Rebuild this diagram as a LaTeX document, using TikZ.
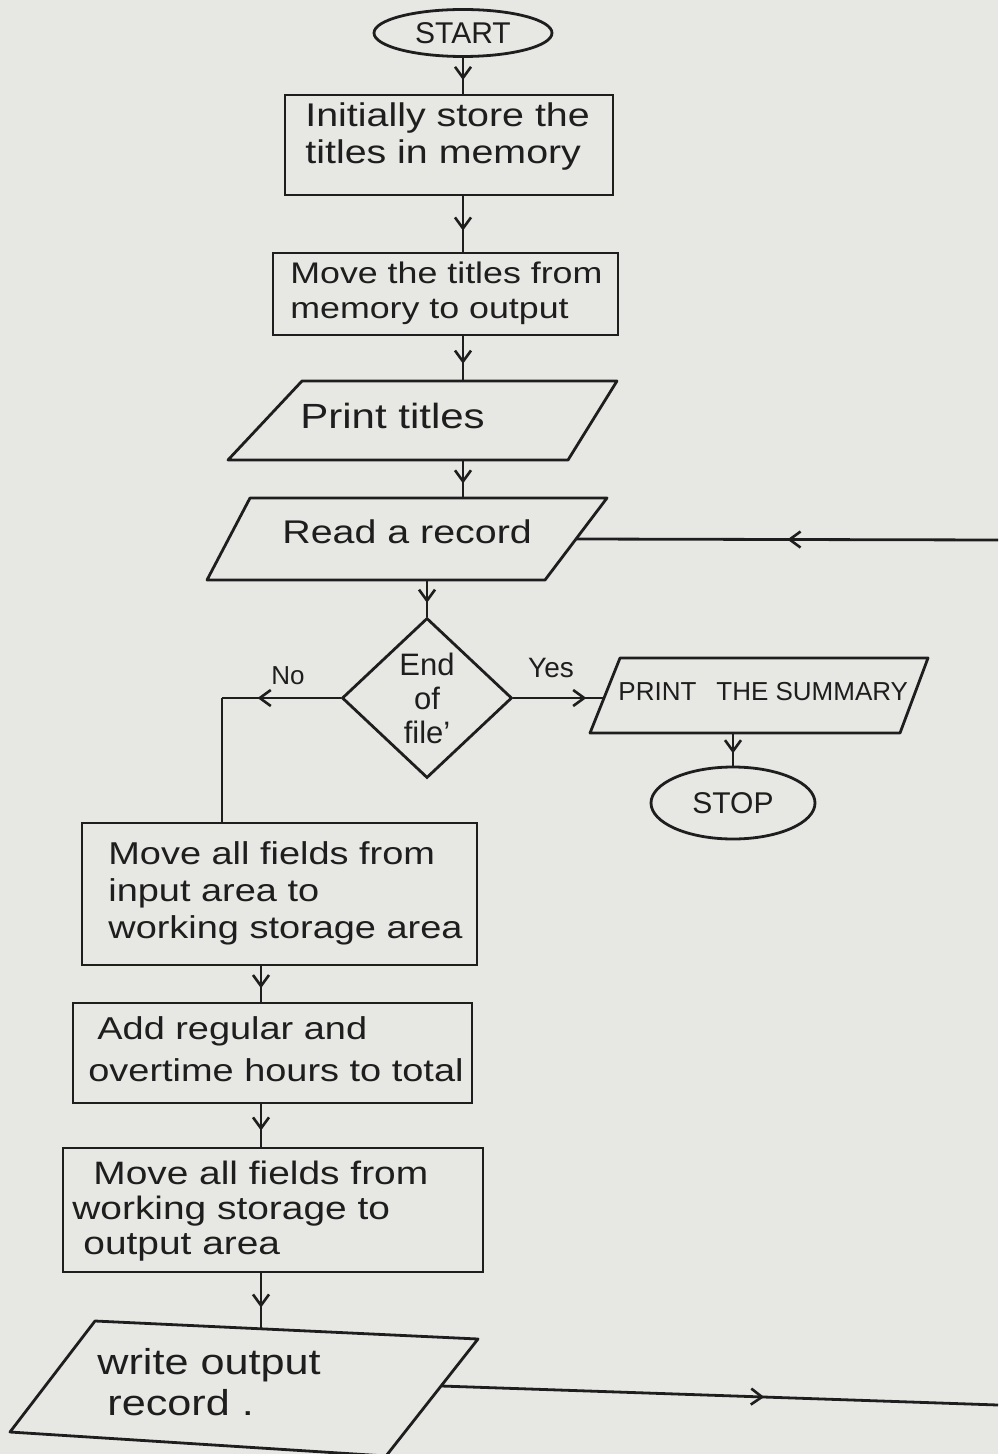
\documentclass[tikz,border=0pt]{standalone}
\usepackage{fontspec}
\setmainfont{Liberation Sans}
\newfontfamily\handfont{Liberation Sans}[FakeStretch=1.2]
\newcommand{\handsz}[2]{\handfont\fontsize{#1}{#2}\selectfont}
\usetikzlibrary{shapes.geometric,arrows.meta,decorations.markings}
\definecolor{paper}{RGB}{231,231,228}
\definecolor{ink}{RGB}{30,30,30}
\tikzset{
  every node/.style={text=ink, font=\fontsize{15}{17}\selectfont},
  proc/.style={draw=ink, line width=1.4pt, rectangle, inner sep=0pt},
  iobody/.style={draw=none, rectangle, inner sep=0pt},
  ioline/.style={draw=ink, line width=1.4pt, line join=round},
  txt/.style={anchor=west, align=left, inner sep=0pt},
  term/.style={draw=ink, line width=1.4pt, ellipse, inner sep=0pt},
  dec/.style={draw=ink, line width=1.4pt, diamond, inner sep=0pt, align=center,
     font=\fontsize{15.5}{17}\selectfont},
  conn/.style={draw=ink, line width=1.4pt},
  arrowat/.style={postaction={decorate},
     decoration={markings, mark=at position #1 with {\arrow[ink, line width=1.3pt]{Straight Barb[length=5.5pt,width=8pt]}}}},
  arrowat/.default=0.62,
  lbl/.style={font=\fontsize{14}{16}\selectfont}
}
\begin{document}
\begin{tikzpicture}[x=0.5pt,y=-0.5pt]
\fill[paper] (0,0) rectangle (998,1454);
\useasboundingbox (0,0) rectangle (998,1454);

% terminals, process boxes, decision
\node[term, minimum width=89pt, minimum height=23.5pt] (start) at (463,33) {START};
\node[proc, minimum width=164pt, minimum height=50pt] (b1) at (449,145) {};
\node[proc, minimum width=172.5pt, minimum height=41pt] (b2) at (445.5,294) {};
\node[dec, minimum width=85pt, minimum height=80pt] (d) at (427,698) {End\\of\\file'};
\node[term, minimum width=82pt, minimum height=36pt] (stop) at (733,803) {STOP};
\node[proc, minimum width=197.5pt, minimum height=71pt] (b3) at (279.5,894) {};
\node[proc, minimum width=199.5pt, minimum height=50pt] (b4) at (272.5,1053) {};
\node[proc, minimum width=210pt, minimum height=62pt] (b5) at (273,1210) {};

% input/output parallelograms: anchor bodies + outlines
\node[iobody, minimum width=163.75pt, minimum height=39.5pt] (pt) at (428.75,420.5) {};
\draw[ioline] (302,381) -- (617,381) -- (568,460) -- (228,460) -- cycle;
\node[iobody, minimum width=174pt, minimum height=41pt] (rr) at (402.25,539) {};
\draw[ioline] (250,498) -- (607,498) -- (545,580) -- (207,580) -- cycle;
\node[iobody, minimum width=154.5pt, minimum height=37.5pt] (ps) at (759.5,695.5) {};
\draw[ioline] (620,658) -- (928,658) -- (900,733) -- (590,733) -- cycle;
\node[iobody, minimum width=198pt, minimum height=57pt] (wo) at (243,1386) {};
\draw[ioline] (95,1321) -- (478,1339) -- (386,1456) -- (10,1432) -- cycle;

% texts
\node[txt, font=\handsz{16.4}{18.5}] (b1t) at (305,137) {Initially store the\\titles in memory};
\node[txt, font=\handsz{14.9}{17.5}] (b2t) at (290,293) {Move the titles from\\memory to output};
\node[txt, font=\handsz{17.5}{20}] (ptt) at (300,416) {Print titles};
\node[txt, font=\handsz{16.4}{19}] (rrt) at (282,532) {Read a record};
\node[txt, font=\fontsize{13}{15}\selectfont] (pst) at (618,692) {PRINT\hspace{10pt}THE SUMMARY};
\node[txt, font=\handsz{15.8}{18.5}] (b3t) at (108,893) {Move all fields from\\input area to\\working storage area};
\node[txt, font=\handsz{15.8}{21}] (b4t) at (88,1049) {\hspace{4.5pt}Add regular and\\overtime hours to total};
\node[txt, font=\handsz{16.2}{17.5}] (b5t) at (72,1211) {\hspace{10.5pt}Move all fields from\\working storage to\\\hspace{5.5pt}output area};
\node[txt, font=\handsz{18}{20.5}] (wot) at (97,1382) {write output\\\hspace{5pt}record .};

\node[lbl] (yes) at (551,668) {Yes};
\node[lbl, font=\fontsize{13}{15}\selectfont] (no) at (288,676) {No};

\coordinate (col2) at (261,1000);
\coordinate (nocorner) at (222,698);
\coordinate (loopin) at (998,540);
\coordinate (loopout) at (998,1405);

% connectors
\draw[conn, arrowat] (start.south) -- (start.south |- b1.north);
\draw[conn, arrowat] (b1.south -| start.south) -- (b2.north -| start.south);
\draw[conn, arrowat] (b2.south -| start.south) -- (pt.north -| start.south);
\draw[conn, arrowat] (pt.south -| start.south) -- (rr.north -| start.south);
\draw[conn, arrowat] (rr.south -| d.north) -- (d.north);
\draw[conn, arrowat=0.8] (d.east) -- (d.east -| ps.west);
\draw[conn, arrowat] (ps.south -| stop.north) -- (stop.north);
\draw[conn, arrowat=0.7] (d.west) -- (nocorner);
\draw[conn] (nocorner) -- (b3.north -| nocorner);
\draw[conn, arrowat] (b3.south -| col2) -- (b4.north -| col2);
\draw[conn, arrowat] (b4.south -| col2) -- (b5.north -| col2);
\draw[conn, arrowat] (b5.south -| col2) -- (wo.north -| col2);
\draw[conn, arrowat=0.5] (loopin) -- (rr.east);
\draw[conn, arrowat=0.58] (wo.east) -- (loopout);
\end{tikzpicture}
\end{document}
